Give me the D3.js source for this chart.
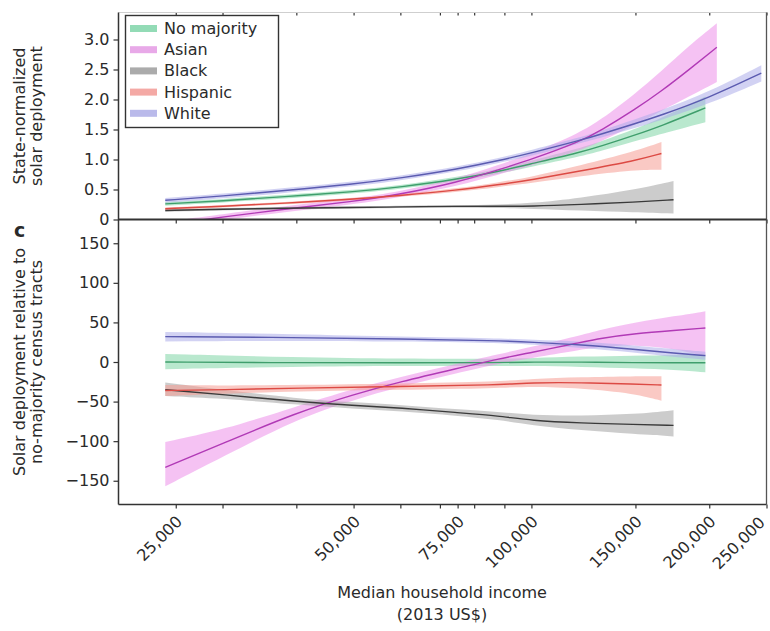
<!DOCTYPE html>
<html><head><meta charset="utf-8">
<script src="https://cdn.jsdelivr.net/npm/d3@7"></script>
<style>
body{margin:0;background:#fff}
svg text{font-family:"DejaVu Sans",sans-serif;fill:#2a2a2a}
</style>
</head><body>
<svg id="chart" width="770" height="631"></svg>
<script>
// ---------------- data ----------------
const seriesNames = ["No majority", "Asian", "Black", "Hispanic", "White"];
const xTickValues = [25000, 30000, 40000, 50000, 60000, 70000, 75000, 80000, 90000, 100000, 150000, 200000, 250000];
const xTickLabels = [25000, 50000, 75000, 100000, 150000, 200000, 250000];
const yTopTicks = [0, 0.5, 1.0, 1.5, 2.0, 2.5, 3.0];
const yBotTicks = [-150, -100, -50, 0, 50, 100, 150];

// Top panel: state-normalized solar deployment
const topNoMajX  = [24000, 30000, 38000, 50000, 60000, 75000, 88000, 100000, 121000, 131000, 150000, 165000, 197000];
const topNoMajY  = [0.26, 0.31, 0.38, 0.46, 0.54, 0.67, 0.80, 0.93, 1.12, 1.22, 1.41, 1.55, 1.86];
const topNoMajLo = [0.23, 0.28, 0.35, 0.43, 0.51, 0.63, 0.76, 0.88, 1.05, 1.14, 1.31, 1.42, 1.62];
const topNoMajHi = [0.29, 0.34, 0.41, 0.49, 0.57, 0.71, 0.84, 0.98, 1.19, 1.30, 1.51, 1.68, 2.05];

const topAsianX  = [24000, 27000, 30000, 38000, 50000, 60000, 75000, 88000, 100000, 121000, 131000, 150000, 165000, 185000, 206000];
const topAsianY  = [-0.10, -0.02, 0.04, 0.17, 0.30, 0.42, 0.62, 0.83, 1.00, 1.30, 1.48, 1.84, 2.12, 2.50, 2.87];
const topAsianLo = [-0.16, -0.07, -0.01, 0.12, 0.25, 0.37, 0.56, 0.75, 0.90, 1.15, 1.30, 1.58, 1.80, 2.05, 2.29];
const topAsianHi = [-0.04, 0.03, 0.09, 0.22, 0.35, 0.47, 0.68, 0.91, 1.10, 1.45, 1.66, 2.10, 2.45, 2.90, 3.27];

const topBlackX  = [24000, 30000, 38000, 50000, 60000, 75000, 88000, 100000, 121000, 150000, 174000];
const topBlackY  = [0.15, 0.17, 0.19, 0.20, 0.21, 0.22, 0.22, 0.22, 0.25, 0.29, 0.33];
const topBlackLo = [0.13, 0.15, 0.17, 0.18, 0.19, 0.20, 0.19, 0.18, 0.15, 0.12, 0.10];
const topBlackHi = [0.17, 0.19, 0.21, 0.22, 0.23, 0.24, 0.25, 0.27, 0.36, 0.50, 0.64];

const topHispX  = [24000, 30000, 38000, 50000, 60000, 75000, 88000, 100000, 121000, 150000, 166000];
const topHispY  = [0.18, 0.22, 0.27, 0.34, 0.40, 0.49, 0.58, 0.66, 0.81, 0.98, 1.10];
const topHispLo = [0.16, 0.20, 0.25, 0.32, 0.38, 0.46, 0.54, 0.61, 0.72, 0.83, 0.83];
const topHispHi = [0.20, 0.24, 0.29, 0.36, 0.42, 0.52, 0.62, 0.71, 0.90, 1.14, 1.29];

const topWhiteX  = [24000, 30000, 38000, 50000, 60000, 75000, 88000, 100000, 121000, 131000, 150000, 165000, 200000, 245000];
const topWhiteY  = [0.32, 0.39, 0.48, 0.59, 0.69, 0.84, 0.98, 1.11, 1.32, 1.42, 1.60, 1.73, 2.03, 2.44];
const topWhiteLo = [0.28, 0.35, 0.44, 0.55, 0.65, 0.80, 0.94, 1.06, 1.27, 1.36, 1.53, 1.65, 1.93, 2.30];
const topWhiteHi = [0.36, 0.43, 0.52, 0.63, 0.73, 0.88, 1.02, 1.16, 1.37, 1.48, 1.67, 1.81, 2.13, 2.57];

// Bottom panel: deployment relative to no-majority tracts (%)
const botNoMajX  = [24000, 40000, 60000, 88000, 100000, 121000, 150000, 175000, 197000];
const botNoMajY  = [0, -1, -1, -1, 0, 0, -1, -1, -1];
const botNoMajLo = [-9, -6, -5, -5, -5, -6, -8, -10, -13];
const botNoMajHi = [10, 6, 4, 4, 5, 7, 8, 9, 10];

const botAsianX  = [24000, 30000, 40000, 50000, 60000, 75000, 88000, 100000, 120000, 131000, 150000, 175000, 197000];
const botAsianY  = [-133, -103, -64, -41, -25, -8, 4, 12, 24, 30, 36, 40, 43];
const botAsianLo = [-157, -120, -72, -48, -31, -14, -2, 5, 15, 19, 22, 17, 7];
const botAsianHi = [-101, -86, -56, -34, -19, -2, 10, 19, 33, 41, 50, 58, 64];

const botBlackX  = [24000, 30000, 40000, 50000, 60000, 75000, 88000, 100000, 121000, 150000, 174000];
const botBlackY  = [-35, -41, -50, -55, -58, -64, -68, -74, -77, -79, -80];
const botBlackLo = [-43, -46, -54, -59, -62, -68, -73, -80, -86, -91, -94];
const botBlackHi = [-26, -35, -46, -51, -54, -60, -63, -67, -68, -66, -61];

const botHispX  = [24000, 30000, 40000, 60000, 88000, 100000, 121000, 150000, 166000];
const botHispY  = [-36, -35, -33, -31, -29, -26, -26, -28, -29];
const botHispLo = [-43, -40, -37, -35, -33, -31, -33, -40, -49];
const botHispHi = [-29, -30, -29, -27, -25, -21, -19, -18, -18];

const botWhiteX  = [24000, 40000, 60000, 88000, 100000, 121000, 150000, 175000, 197000];
const botWhiteY  = [32, 31, 29, 27, 25, 22, 16, 11, 8];
const botWhiteLo = [26, 27, 26, 24, 22, 18, 12, 6, 3];
const botWhiteHi = [38, 35, 32, 30, 28, 26, 21, 16, 13];

// ---------------- styles ----------------
const lineColors = ["#3f9e6c", "#b13ab6", "#3a3a3a", "#dc4a44", "#5b5bb0"];
const bandColors = ["#7fd6a6", "#ec90ea", "#a2a2a2", "#f59c94", "#adadea"];
const swatchColors = ["#93dbb6", "#e8a9e8", "#ababab", "#f4a9a5", "#babaea"];

function pack(xs, ys, lo, hi) { return xs.map((v, i) => ({x: v, y: ys[i], lo: lo[i], hi: hi[i]})); }
const topData = [
  pack(topNoMajX, topNoMajY, topNoMajLo, topNoMajHi),
  pack(topAsianX, topAsianY, topAsianLo, topAsianHi),
  pack(topBlackX, topBlackY, topBlackLo, topBlackHi),
  pack(topHispX, topHispY, topHispLo, topHispHi),
  pack(topWhiteX, topWhiteY, topWhiteLo, topWhiteHi)
];
const botData = [
  pack(botNoMajX, botNoMajY, botNoMajLo, botNoMajHi),
  pack(botAsianX, botAsianY, botAsianLo, botAsianHi),
  pack(botBlackX, botBlackY, botBlackLo, botBlackHi),
  pack(botHispX, botHispY, botHispLo, botHispHi),
  pack(botWhiteX, botWhiteY, botWhiteLo, botWhiteHi)
];

// ---------------- scales ----------------
const L = 118.5, R = 766.5, T = 12.5, MID = 219.5, B = 504.5;
const x = d3.scaleLog().domain([20000, 250000]).range([L, R]);
const yTop = d3.scaleLinear().domain([0, 3.45]).range([MID, T]);
const yBot = d3.scaleLinear().domain([-180, 180]).range([B, MID]);

const svg = d3.select("#chart");
const defs = svg.append("defs");
defs.append("clipPath").attr("id", "clipTop").append("rect").attr("x", L).attr("y", T).attr("width", R - L).attr("height", MID - T);
defs.append("clipPath").attr("id", "clipBot").append("rect").attr("x", L).attr("y", MID).attr("width", R - L).attr("height", B - MID);

function drawPanel(data, y, clip) {
  const g = svg.append("g").attr("clip-path", `url(#${clip})`);
  const area = d3.area().x(d => x(d.x)).y0(d => y(d.lo)).y1(d => y(d.hi)).curve(d3.curveBasis);
  const line = d3.line().x(d => x(d.x)).y(d => y(d.y)).curve(d3.curveBasis);
  data.forEach((s, i) => {
    g.append("path").attr("d", area(s)).attr("fill", bandColors[i]).attr("fill-opacity", 0.55);
  });
  data.forEach((s, i) => {
    g.append("path").attr("d", line(s)).attr("fill", "none").attr("stroke", lineColors[i]).attr("stroke-width", 1.4);
  });
}
drawPanel(topData, yTop, "clipTop");
drawPanel(botData, yBot, "clipBot");

// ---------------- axes ----------------
const fmtTop = d => d === 0 ? "0" : d3.format(".1f")(d);
const fmtBot = d => d < 0 ? "\u2212" + Math.abs(d) : String(d);

function styleAxis(g) {
  g.select(".domain").remove();
  g.selectAll("line").attr("stroke", "#333").attr("stroke-width", 1.2);
  g.selectAll("text").attr("font-size", 16).attr("fill", "#2a2a2a").attr("font-family", "DejaVu Sans, sans-serif");
}

svg.append("g").attr("transform", `translate(${L},0)`)
  .call(d3.axisLeft(yTop).tickValues(yTopTicks).tickFormat(fmtTop).tickSize(5).tickPadding(4))
  .call(styleAxis);
svg.append("g").attr("transform", `translate(${L},0)`)
  .call(d3.axisLeft(yBot).tickValues(yBotTicks).tickFormat(fmtBot).tickSize(5).tickPadding(4))
  .call(styleAxis);

// top panel: inner ticks on top edge and on shared edge
svg.append("g").attr("transform", `translate(0,${T})`)
  .call(d3.axisBottom(x).tickValues(xTickValues).tickFormat("").tickSize(3))
  .call(styleAxis);
svg.append("g").attr("transform", `translate(0,${MID})`)
  .call(d3.axisBottom(x).tickValues(xTickValues).tickFormat("").tickSize(4))
  .call(styleAxis);

// bottom x axis with rotated labels
const xAx = svg.append("g").attr("transform", `translate(0,${B})`)
  .call(d3.axisBottom(x).tickValues(xTickValues)
    .tickFormat(d => xTickLabels.includes(d) ? d3.format(",")(d) : "").tickSize(4))
  .call(styleAxis);
xAx.selectAll("text")
  .attr("x", 0).attr("y", 0).attr("dy", "0")
  .attr("text-anchor", "end")
  .attr("transform", d => d === 250000 ? "translate(-1,19) rotate(-45)" : "translate(7,18) rotate(-45)");

// ---------------- frames ----------------
const frame = svg.append("g").attr("fill", "none");
frame.append("line").attr("x1", L).attr("x2", R).attr("y1", T).attr("y2", T).attr("stroke", "#cfcfcf").attr("stroke-width", 1);
frame.append("line").attr("x1", L).attr("x2", L).attr("y1", T).attr("y2", B).attr("stroke", "#333").attr("stroke-width", 1.5);
frame.append("line").attr("x1", R).attr("x2", R).attr("y1", T).attr("y2", B).attr("stroke", "#555").attr("stroke-width", 1.3);
frame.append("line").attr("x1", L).attr("x2", R).attr("y1", MID).attr("y2", MID).attr("stroke", "#333").attr("stroke-width", 1.8);
frame.append("line").attr("x1", L).attr("x2", R).attr("y1", B).attr("y2", B).attr("stroke", "#333").attr("stroke-width", 1.5);

// ---------------- legend ----------------
const lg = svg.append("g");
lg.append("rect").attr("x", 125.5).attr("y", 15.5).attr("width", 153).attr("height", 112)
  .attr("fill", "#fff").attr("stroke", "#333").attr("stroke-width", 1.4);
seriesNames.forEach((n, i) => {
  const cy = 28.5 + i * 21.2;
  lg.append("rect").attr("x", 130).attr("y", cy - 3.5).attr("width", 27).attr("height", 7).attr("fill", swatchColors[i]);
  lg.append("text").attr("x", 164).attr("y", cy + 5.5).attr("font-size", 16).text(n);
});

// ---------------- titles ----------------
function vTitle(lines, cy) {
  lines.forEach((t, i) => {
    svg.append("text").attr("transform", `translate(${25 + i * 17},${cy}) rotate(-90)`)
      .attr("text-anchor", "middle").attr("font-size", 16).text(t);
  });
}
vTitle(["State-normalized", "solar deployment"], 116);
vTitle(["Solar deployment relative to", "no-majority census tracts"], 362);

svg.append("text").attr("x", 442).attr("y", 598).attr("text-anchor", "middle").attr("font-size", 16).text("Median household income");
svg.append("text").attr("x", 442).attr("y", 620).attr("text-anchor", "middle").attr("font-size", 16).text("(2013 US$)");

svg.append("text").attr("x", 14).attr("y", 237).attr("font-size", 19).attr("font-weight", "bold").attr("fill", "#111").text("c");
</script>
</body></html>
